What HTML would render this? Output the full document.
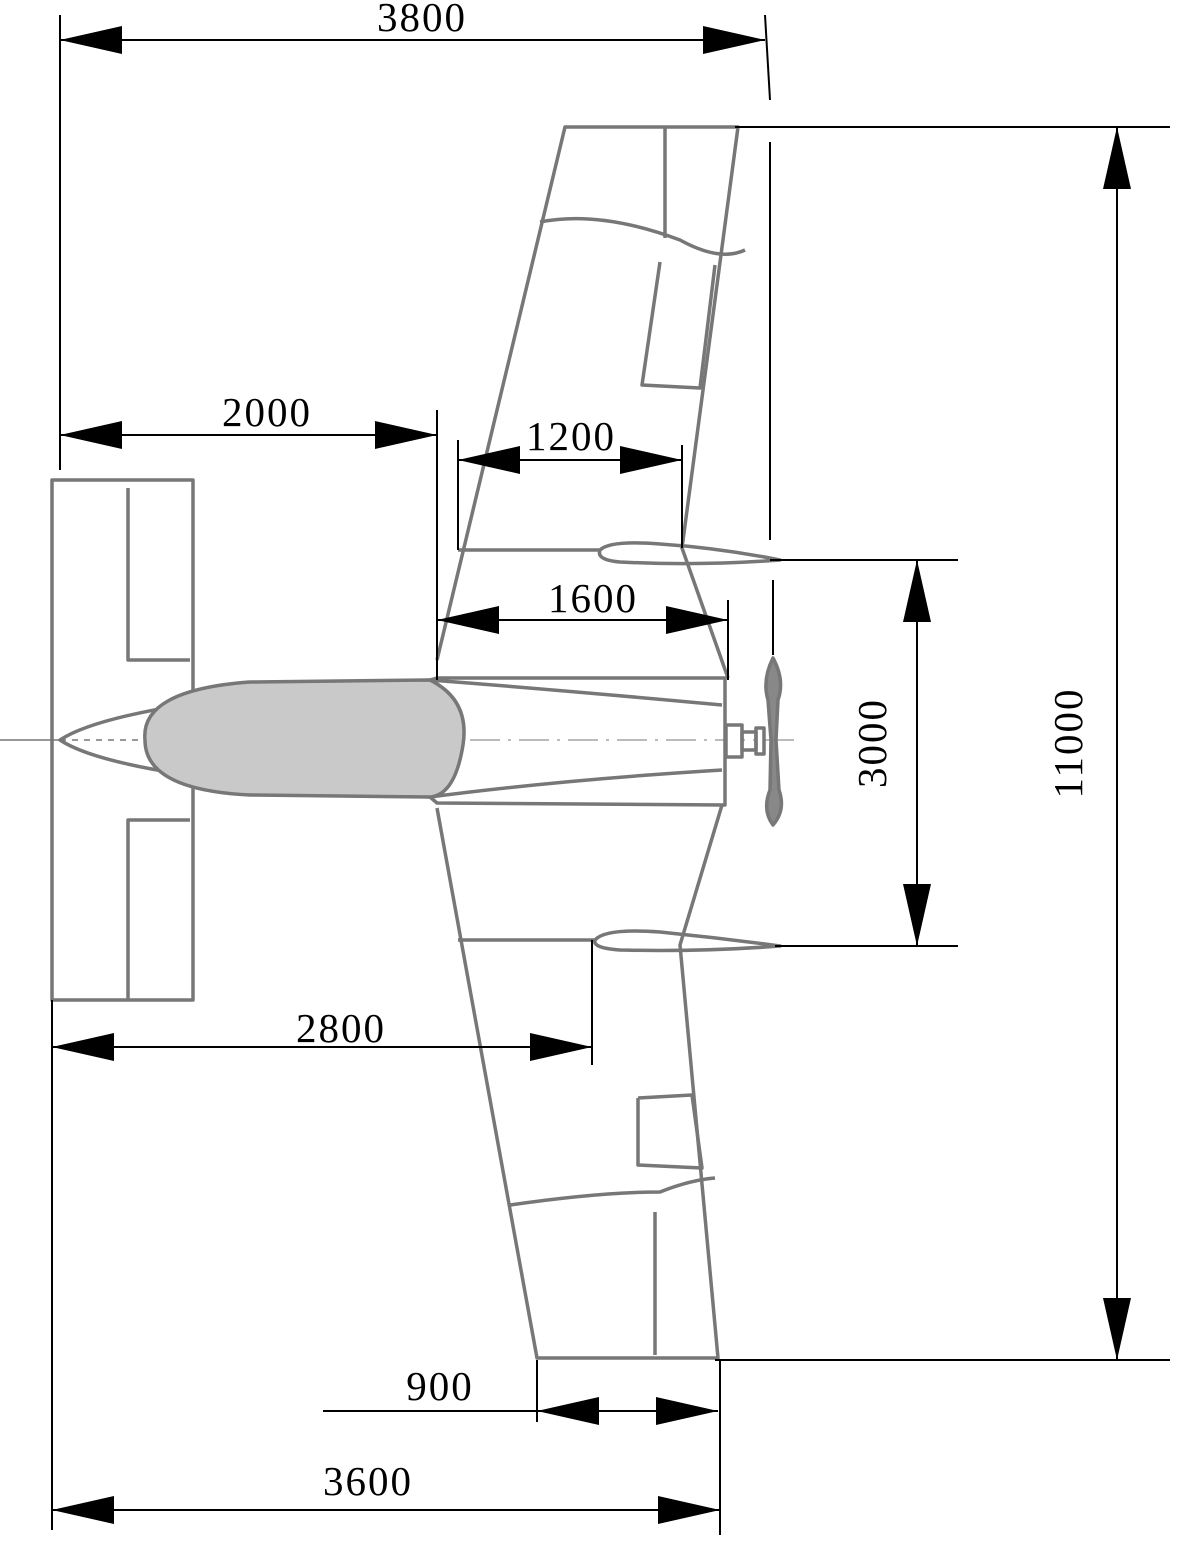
<!DOCTYPE html>
<html><head><meta charset="utf-8"><style>
html,body{margin:0;padding:0;background:#fff}
svg{display:block}
text{font-family:"Liberation Serif",serif;font-size:41px;letter-spacing:2px;fill:#000}
</style></head><body>
<svg width="1200" height="1567" viewBox="0 0 1200 1567" xmlns="http://www.w3.org/2000/svg">
<defs>
<marker id="a" viewBox="0 0 62 28" refX="62" refY="14" markerWidth="62" markerHeight="28" markerUnits="userSpaceOnUse" orient="auto-start-reverse"><path d="M0 0 L62 14 L0 28 Z" fill="#000"/></marker>
</defs>
<g fill="none" stroke="#777" stroke-width="3.5" stroke-linejoin="round">
<rect x="52" y="480" width="141" height="520"/>
<polyline points="128,488 128,660 190,660"/>
<polyline points="128,1000 128,820 190,820"/>
<path d="M60 740 Q120 700 430 680 L437 678 L725 678 L725 805 L437 803 L430 797 Q120 780 60 740 Z"/>
<path d="M430 680 Q560 690 722 705"/>
<path d="M430 797 Q560 780 722 770"/>
<path d="M60 740 L160 740" stroke-dasharray="6 6" stroke-width="1.5"/>
<line x1="0" y1="740" x2="60" y2="740" stroke-width="1.5"/>
<line x1="470" y1="740" x2="800" y2="740" stroke-width="1" stroke-dasharray="30 8 3 8"/>
<path d="M145 740 Q140 690 250 682 L430 680 Q470 700 463 745 Q455 795 430 797 L250 795 Q145 790 145 740 Z" fill="#c9c9c9"/>
<rect x="726" y="725" width="16" height="32" fill="#fff"/>
<rect x="742" y="732" width="14" height="18"/>
<rect x="756" y="728" width="8" height="26"/>
<path d="M773 658 Q785 680 778 700 L776 740 L779 790 Q786 810 773 825 Q762 810 770 790 L771 740 L768 700 Q762 680 773 658 Z" fill="#888"/>
<polyline points="437,660 565,127 738,127 682,548 728,678"/>
<path d="M540 222 Q600 210 680 240 Q720 262 745 250"/>
<line x1="665" y1="127" x2="665" y2="238"/>
<polyline points="660,262 642,385 700,388 715,265"/>
<line x1="458" y1="550" x2="600" y2="550"/>
<path d="M600 550 Q610 540 660 544 Q720 548 780 560 Q700 566 620 562 Q596 560 600 550 Z"/>
<polyline points="437,808 537,1358 718,1358 680,945 722,805"/>
<path d="M510 1205 Q600 1192 660 1192 Q690 1180 715 1178"/>
<line x1="655" y1="1212" x2="655" y2="1355"/>
<polyline points="638,1098 638,1165 702,1168 692,1095 638,1098"/>
<line x1="458" y1="940" x2="595" y2="940"/>
<path d="M595 940 Q605 928 660 932 Q720 938 780 946 Q700 952 620 950 Q592 948 595 940 Z"/>
</g>
<g stroke="#000" stroke-width="2" fill="none">
<line x1="60" y1="15" x2="60" y2="470"/>
<line x1="765" y1="15" x2="770" y2="100"/>
<line x1="60" y1="40" x2="765" y2="40" marker-start="url(#a)" marker-end="url(#a)"/>
<line x1="735" y1="127" x2="1170" y2="127"/>
<line x1="715" y1="1360" x2="1170" y2="1360"/>
<line x1="1117" y1="127" x2="1117" y2="1360" marker-start="url(#a)" marker-end="url(#a)"/>
<line x1="770" y1="142" x2="770" y2="540"/>
<line x1="773" y1="580" x2="773" y2="655"/>
<line x1="770" y1="560" x2="958" y2="560"/>
<line x1="775" y1="946" x2="958" y2="946"/>
<line x1="917" y1="560" x2="917" y2="946" marker-start="url(#a)" marker-end="url(#a)"/>
<line x1="437" y1="410" x2="437" y2="680"/>
<line x1="60" y1="435" x2="437" y2="435" marker-start="url(#a)" marker-end="url(#a)"/>
<line x1="458" y1="440" x2="458" y2="550"/>
<line x1="682" y1="445" x2="682" y2="548"/>
<line x1="458" y1="460" x2="682" y2="460" marker-start="url(#a)" marker-end="url(#a)"/>
<line x1="728" y1="600" x2="728" y2="680"/>
<line x1="437" y1="620" x2="728" y2="620" marker-start="url(#a)" marker-end="url(#a)"/>
<line x1="592" y1="940" x2="592" y2="1065"/>
<line x1="52" y1="1000" x2="52" y2="1530"/>
<line x1="52" y1="1047" x2="592" y2="1047" marker-start="url(#a)" marker-end="url(#a)"/>
<line x1="537" y1="1360" x2="537" y2="1422"/>
<line x1="323" y1="1411" x2="537" y2="1411"/>
<line x1="537" y1="1411" x2="718" y2="1411" marker-start="url(#a)" marker-end="url(#a)"/>
<line x1="720" y1="1360" x2="720" y2="1535"/>
<line x1="52" y1="1510" x2="720" y2="1510" marker-start="url(#a)" marker-end="url(#a)"/>
</g>
<g text-anchor="middle">
<text x="422" y="31">3800</text>
<text x="267" y="426">2000</text>
<text x="571" y="450">1200</text>
<text x="593" y="612">1600</text>
<text x="341" y="1042">2800</text>
<text x="440" y="1400">900</text>
<text x="368" y="1495">3600</text>
<text transform="translate(886,743) rotate(-90)">3000</text>
<text transform="translate(1082,743) rotate(-90)">11000</text>
</g>
</svg>
</body></html>
